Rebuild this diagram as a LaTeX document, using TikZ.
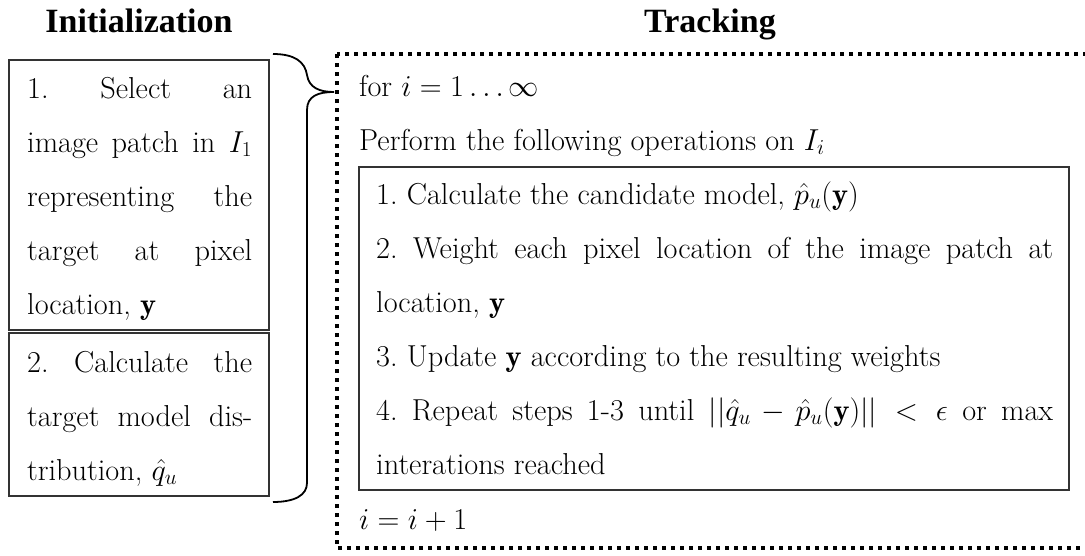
\RequirePackage{fix-cm}
\documentclass[tikz,border=0pt]{standalone}
\usepackage{fontspec}
\newfontfamily\headfont{Liberation Serif}
\begin{document}
\begin{tikzpicture}[x=1pt,y=-1pt,
  every node/.style={inner sep=0pt,font=\fontsize{30.3}{54}\selectfont},
  steptext/.style={anchor=base west,text width=#1,align=justify,
    execute at begin node={\parindent=0pt}},
  head/.style={anchor=base,font=\headfont\bfseries\fontsize{34}{40}\selectfont},
  frame/.style={draw=black!80,line width=1.3pt},
  loopframe/.style={line width=4pt,dash pattern=on 4pt off 5pt}]

  \clip (0,0) rectangle (1085,555);

  % headings
  \node[head] (init) at (139,32) {Initialization};
  \node[head] (track) at (710,32) {Tracking};

  % initialization boxes
  \draw[frame] (9,60) rectangle (269,330);
  \draw[frame] (9,333) rectangle (269,496);
  \node[steptext=225] (select) at (27,98)
    {1.\ Select an\linebreak image patch in $I_1$\linebreak representing the\linebreak
     target at pixel\linebreak location, $\mathbf{y}$};
  \node[steptext=225] (model) at (27,372)
    {2.\ Calculate the\linebreak target model dis-\linebreak tribution, $\hat{q}_u$};

  % brace
  \draw[line width=1.8pt] (273,54) .. controls (295,54) and (305,62) .. (307,75)
    .. controls (309,88) and (320,92) .. (334,92)
    .. controls (318,92) and (307,96) .. (307,110) -- (307,483)
    .. controls (307,495) and (295,502) .. (273,502);

  % tracking loop
  \draw[loopframe] (337,54) rectangle (1100,548);
  \node[anchor=base west] (loop) at (359,96) {for $i=1\ldots\infty$};
  \node[anchor=base west] (perform) at (359,150) {Perform the following operations on $I_i$};
  \draw[frame] (359,167) rectangle (1069,490);
  \node[steptext=677] (ops) at (376,204)
    {1.\ Calculate the candidate model, $\hat{p}_u(\mathbf{y})$\par
     2.\ Weight each pixel location of the image patch at\linebreak location, $\mathbf{y}$\par
     3.\ Update $\mathbf{y}$ according to the resulting weights\par
     4.\ Repeat steps 1-3 until $||\hat{q}_u-\hat{p}_u(\mathbf{y})||<\epsilon$ or max\linebreak
     interations reached};
  \node[anchor=base west] (incr) at (359,529) {$i=i+1$};

\end{tikzpicture}
\end{document}
